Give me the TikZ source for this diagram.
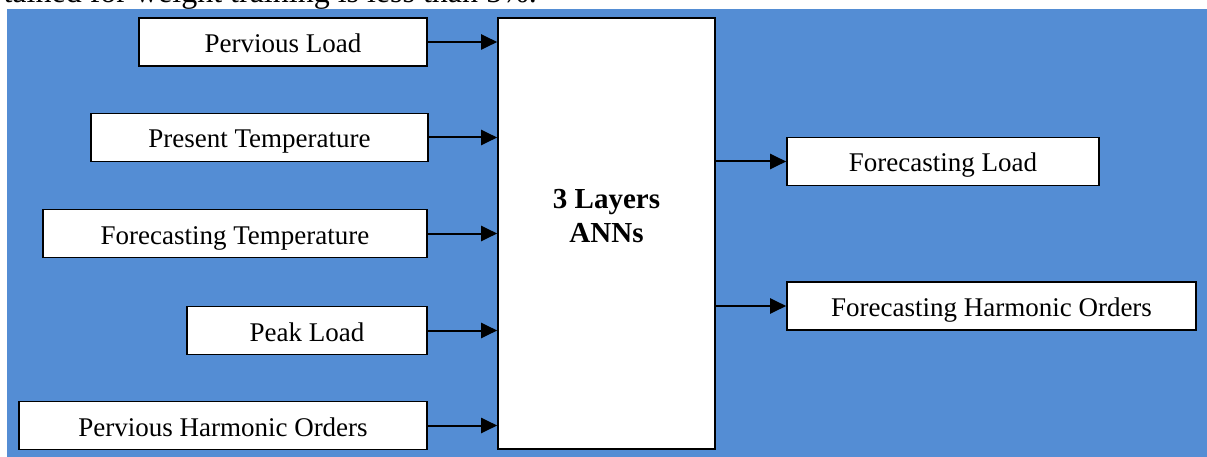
\documentclass[tikz,border=0pt]{standalone}
\usepackage{fontspec}
\setmainfont{Liberation Serif}
\usetikzlibrary{arrows.meta,calc}
\definecolor{bgblue}{RGB}{84,141,212}
\begin{document}
\begin{tikzpicture}[x=1pt,y=-1pt,
  inbox/.style={draw=black,line width=1.6pt,fill=white,inner xsep=0pt,inner ysep=0pt,
    text height=34.5pt,text depth=13.5pt,font=\fontsize{27}{32}\selectfont,
    append after command={
      \pgfextra{\fill[white] ($(\tikzlastnode.south west)+(0.9,-0.9)$) rectangle ($(\tikzlastnode.south east)+(-0.9,-11.3)$);}}},
  bigbox/.style={draw=black,line width=1.6pt,fill=white,inner sep=0pt},
  conn/.style={line width=2pt,-{Triangle[length=16pt,width=15pt]}}]
\clip (0,0) rectangle (1207,457);
\useasboundingbox (0,0) rectangle (1207,457);
\fill[white] (0,0) rectangle (1207,457);
\node[anchor=base east,inner sep=0pt,font=\fontsize{32}{36}\selectfont] (top) at (537,3) {tained for weight training is less than 5\%.};
\fill[bgblue] (7,9) rectangle (1207,457);
% big box
\node[bigbox,minimum width=217pt,minimum height=431pt] (ann) at (606.5,233.5) {};
\node[inner sep=0pt,align=center,font=\fontsize{29}{34}\selectfont\bfseries] (annt) at (606.5,216.5) {3 Layers\\ANNs};
% input boxes
\node[inbox,minimum width=288pt] (pl) at (283,42) {Pervious Load};
\node[inbox,minimum width=337pt] (pt) at (259.5,137.5) {Present Temperature};
\node[inbox,minimum width=384pt] (ft) at (235,233.5) {Forecasting Temperature};
\node[inbox,minimum width=240pt] (pk) at (307,330.5) {Peak Load};
\node[inbox,minimum width=408pt] (ph) at (223,425.5) {Pervious Harmonic Orders};
% output boxes
\node[inbox,minimum width=312pt] (fl) at (943,161.5) {Forecasting Load};
\node[inbox,minimum width=409pt] (fh) at (991.5,306) {Forecasting Harmonic Orders};
% connectors
\draw[conn] (pl.east) -- (pl.east -| ann.west);
\draw[conn] (pt.east) -- (pt.east -| ann.west);
\draw[conn] (ft.east) -- (ft.east -| ann.west);
\draw[conn] (pk.east) -- (pk.east -| ann.west);
\draw[conn] (ph.east) -- (ph.east -| ann.west);
\draw[conn] (ann.east |- fl.west) -- (fl.west);
\draw[conn] (ann.east |- fh.west) -- (fh.west);
\end{tikzpicture}
\end{document}
